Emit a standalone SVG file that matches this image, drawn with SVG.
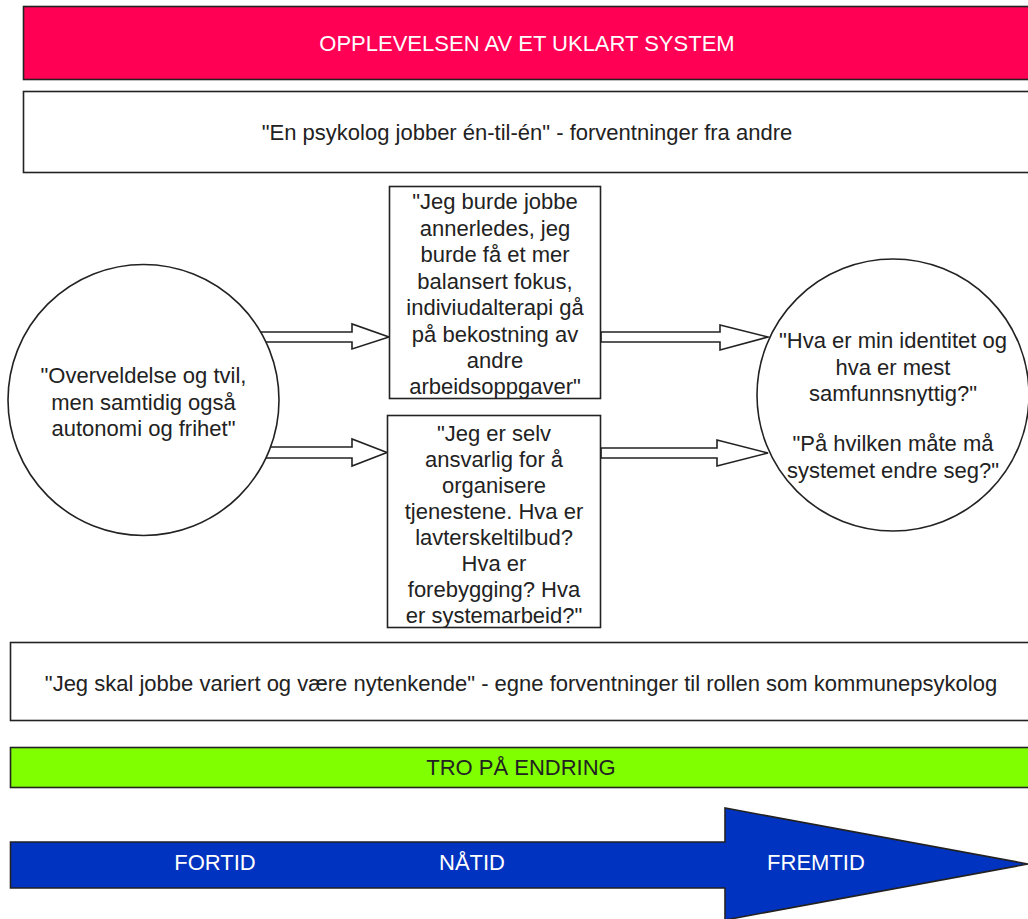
<svg xmlns="http://www.w3.org/2000/svg" width="1028" height="919" viewBox="0 0 1028 919">
<style>
text{font-family:"Liberation Sans",Arial,sans-serif;font-size:22px;text-anchor:middle;fill:#222}
.w{fill:#fff}
.box{fill:#fff;stroke:#222;stroke-width:1.6}
.band{stroke:#222;stroke-width:1.6}
.conn{fill:#fff;stroke:#222;stroke-width:1.6;stroke-linejoin:miter}
</style>
<rect width="1028" height="919" fill="#fff"/>
<g id="top-bar">
<rect class="band" x="23.5" y="6.5" width="1010" height="73" fill="#ff0055"/>
<text class="w" x="527" y="51">OPPLEVELSEN AV ET UKLART SYSTEM</text>
</g>
<g id="others-expect">
<rect class="box" x="23.5" y="91.5" width="1010" height="81"/>
<text x="527" y="140">"En psykolog jobber én-til-én" - forventninger fra andre</text>
</g>
<g id="connectors">
<polygon class="conn" points="250,332 352,332 352,324 389,337 352,349 352,342 250,342"/>
<polygon class="conn" points="255,447 352,447 352,439 387,452.5 352,466 352,458 255,458"/>
<polygon class="conn" points="601,332 720,332 720,325 768,337 720,350 720,342 601,342"/>
<polygon class="conn" points="601,448 717,448 717,440 768,453 717,466 717,458 601,458"/>
</g>
<g id="circle-left">
<circle class="box" cx="143.5" cy="400" r="135.5"/>
<text x="143.5" y="383">"Overveldelse og tvil,</text>
<text x="143.5" y="410">men samtidig også</text>
<text x="143.5" y="436">autonomi og frihet"</text>
</g>
<g id="box-upper">
<rect class="box" x="389.5" y="186.5" width="211" height="212"/>
<text x="495" y="209">"Jeg burde jobbe</text>
<text x="495" y="235.5">annerledes, jeg</text>
<text x="495" y="262">burde få et mer</text>
<text x="495" y="288.5">balansert fokus,</text>
<text x="495" y="315">indiviudalterapi gå</text>
<text x="495" y="341.5">på bekostning av</text>
<text x="495" y="368">andre</text>
<text x="495" y="394">arbeidsoppgaver"</text>
</g>
<g id="box-lower">
<rect class="box" x="387.5" y="415.5" width="213" height="212"/>
<text x="494" y="441">"Jeg er selv</text>
<text x="494" y="467">ansvarlig for å</text>
<text x="494" y="493">organisere</text>
<text x="494" y="519">tjenestene. Hva er</text>
<text x="494" y="545">lavterskeltilbud?</text>
<text x="494" y="571">Hva er</text>
<text x="494" y="597">forebygging? Hva</text>
<text x="494" y="623">er systemarbeid?"</text>
</g>
<g id="circle-right">
<circle class="box" cx="893" cy="395" r="136"/>
<text x="893" y="348">"Hva er min identitet og</text>
<text x="893" y="375">hva er mest</text>
<text x="893" y="401">samfunnsnyttig?"</text>
<text x="893" y="451">"På hvilken måte må</text>
<text x="893" y="478">systemet endre seg?"</text>
</g>
<g id="own-expect">
<rect class="box" x="10.5" y="642.5" width="1025" height="78"/>
<text x="521" y="691">"Jeg skal jobbe variert og være nytenkende" - egne forventninger til rollen som kommunepsykolog</text>
</g>
<g id="green-bar">
<rect class="band" x="10.5" y="747.5" width="1025" height="40" fill="#80ff00"/>
<text x="521" y="775">TRO PÅ ENDRING</text>
</g>
<g id="time-arrow">
<polygon class="band" points="10.5,842 725,842 725,808 1028,864 725,920 725,888 10.5,888" fill="#0033c0"/>
<text class="w" x="215" y="870">FORTID</text>
<text class="w" x="472" y="870">NÅTID</text>
<text class="w" x="816" y="870">FREMTID</text>
</g>
</svg>
